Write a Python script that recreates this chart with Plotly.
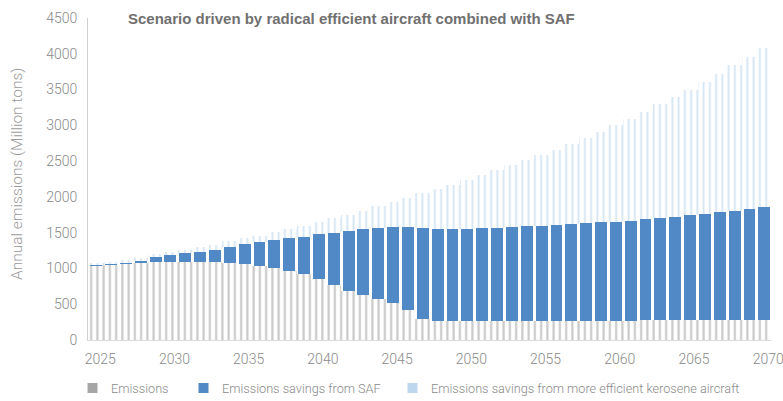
import plotly.graph_objects as go

# Scenario: radical efficient aircraft combined with SAF (million tons CO2 per year)
years = list(range(2024, 2071))

emissions = [
    1035, 1045, 1055, 1065, 1075, 1085, 1090, 1092, 1092, 1088,
    1075, 1060, 1030, 1005, 968, 925, 850, 770, 690, 625,
    570, 515, 420, 300, 265, 265, 266, 266, 267, 267,
    268, 268, 269, 270, 270, 271, 272, 272, 273, 274,
    274, 275, 276, 276, 277, 277, 278,
]

saf_savings = [
    0, 5, 7, 13, 35, 75, 100, 120, 143, 174,
    230, 280, 340, 390, 452, 520, 625, 730, 835, 923,
    1002, 1068, 1158, 1265, 1293, 1290, 1292, 1299, 1305, 1313,
    1322, 1332, 1343, 1352, 1362, 1372, 1383, 1398, 1415, 1432,
    1451, 1470, 1489, 1509, 1531, 1553, 1577,
]

efficiency_savings = [
    10, 20, 30, 38, 42, 42, 45, 52, 60, 68,
    75, 80, 90, 110, 130, 155, 175, 200, 227, 260,
    296, 347, 412, 485, 552, 617, 680, 737, 798, 860,
    922, 985, 1048, 1118, 1190, 1267, 1345, 1425, 1504, 1586,
    1670, 1755, 1845, 1937, 2030, 2128, 2225,
]

series_names = [
    "Emissions",
    "Emissions savings from SAF",
    "Emissions savings from more efficient kerosene aircraft",
]
x_ticks = list(range(2025, 2071, 5))

GRAY = "#a6a6a6"
GRAY_LINE = "#919191"
BLUE = "#5089c6"
LIGHT = "#bdd7ee"
LIGHT_LINE = "#a9cce8"
TEXT = "#8a8a8a"

W, H = 783, 401
L, R, T, B = 88, 12, 18, 61


def light(size, color=TEXT):
    return dict(family="Roboto, Liberation Sans, sans-serif", size=size,
                color=color, weight=300)


def px_x(px):
    return (px - L) / (W - L - R)


def px_y(px):
    return (H - B - px) / (H - T - B)


fig = go.Figure()

# Emissions: fine vertical hatching in gray
fig.add_trace(go.Bar(
    x=years, y=emissions, width=1.0, name=series_names[0],
    marker=dict(
        color="white", line=dict(width=0),
        pattern=dict(shape="|", fgcolor=GRAY_LINE, bgcolor="white",
                     size=6.25, solidity=0.34),
    ),
))

# SAF savings: solid blue columns
fig.add_trace(go.Bar(
    x=years, y=saf_savings, width=0.8, name=series_names[1],
    marker=dict(color=BLUE, line=dict(width=0)),
))

# Efficiency savings: fine vertical hatching in light blue
fig.add_trace(go.Bar(
    x=years, y=efficiency_savings, width=1.0, name=series_names[2],
    marker=dict(
        color="white", line=dict(width=0),
        pattern=dict(shape="|", fgcolor=LIGHT_LINE, bgcolor="white",
                     size=6.25, solidity=0.3),
    ),
))

# Legend drawn as solid swatches with labels along the bottom
legend_left = [87.5, 198.5, 407.5]
legend_mid = 388
shapes, annotations = [], []
for name, col, x0 in zip(series_names, [GRAY, BLUE, LIGHT], legend_left):
    shapes.append(dict(
        type="rect", xref="paper", yref="paper",
        x0=px_x(x0), x1=px_x(x0 + 10),
        y0=px_y(legend_mid + 5), y1=px_y(legend_mid - 5),
        fillcolor=col, line=dict(width=0), layer="above",
    ))
    annotations.append(dict(
        text=name, xref="paper", yref="paper",
        x=px_x(x0 + 21), y=px_y(legend_mid),
        xanchor="left", yanchor="middle", showarrow=False,
        font=light(12.7),
    ))

annotations += [
    dict(
        text="Scenario driven by radical efficient aircraft combined with SAF",
        xref="paper", yref="paper", x=px_x(126), y=px_y(18),
        xanchor="left", yanchor="middle", showarrow=False,
        font=dict(family="Liberation Sans, Arial, sans-serif", size=15,
                  color="#707070", weight="bold"),
    ),
    dict(
        text="Annual emissions (Million tons)",
        xref="paper", yref="paper", x=px_x(17), y=px_y(174),
        xanchor="center", yanchor="middle", textangle=-90, showarrow=False,
        font=light(15.5, "#9a9a9a"),
    ),
]

fig.update_layout(
    width=W, height=H,
    barmode="stack",
    plot_bgcolor="white", paper_bgcolor="white",
    margin=dict(l=L, r=R, t=T, b=B, autoexpand=False),
    font=light(14),
    showlegend=False,
    xaxis=dict(
        range=[2024.45, 2070.45], tickmode="array", tickvals=x_ticks,
        ticks="outside", ticklen=6, tickcolor="rgba(0,0,0,0)",
        ticklabeloverflow="allow", ticklabelshift=4, automargin=False,
        showgrid=False, zeroline=False,
        showline=True, linecolor="#dcdcdc", linewidth=1,
        tickfont=light(14),
    ),
    yaxis=dict(
        range=[0, 4500], tickmode="linear", tick0=0, dtick=500,
        ticks="outside", ticklen=7, tickcolor="rgba(0,0,0,0)",
        automargin=False,
        showgrid=False, zeroline=False,
        showline=True, linecolor="#d0d0d0", linewidth=1,
        tickfont=light(14),
    ),
    shapes=shapes,
    annotations=annotations,
)

fig.write_html("out.html")
